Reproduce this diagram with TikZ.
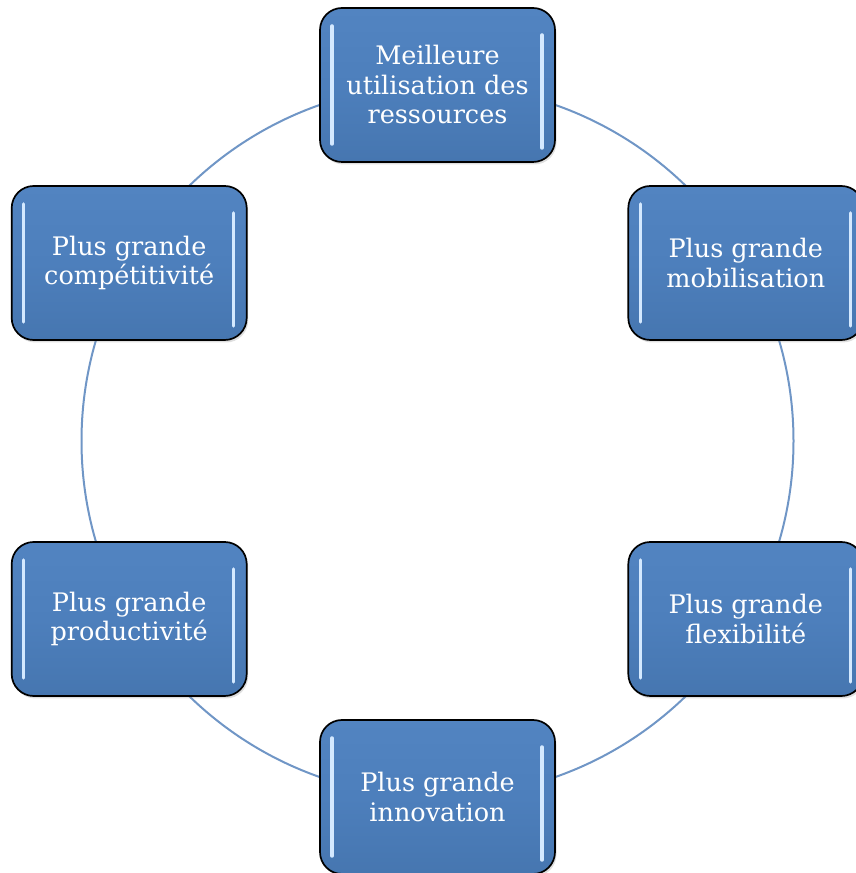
\documentclass[tikz,border=0pt]{standalone}
\usepackage{fontspec}
\setmainfont{DejaVu Serif}
\usetikzlibrary{shadows,calc}

\definecolor{ringblue}{RGB}{112,150,198}
\definecolor{boxtop}{RGB}{82,132,193}
\definecolor{boxmid}{RGB}{77,127,188}
\definecolor{boxbot}{RGB}{70,118,176}
\definecolor{glint}{RGB}{212,233,255}

\tikzset{
  benefit/.style={
    draw=black, line width=1.7pt, rounded corners=22pt,
    minimum width=235pt, minimum height=154pt,
    top color=boxtop, bottom color=boxbot, middle color=boxmid,
    text=white, align=center, inner sep=0pt,
    font=\fontsize{25.5}{29.5}\selectfont,
    drop shadow={opacity=0.25, shadow xshift=1.5pt, shadow yshift=-2.5pt},
    path picture={
      \draw[glint, line width=3.5pt, line cap=round]
        ([xshift=12pt,yshift=-18pt]path picture bounding box.north west) --
        ([xshift=12pt,yshift=18pt]path picture bounding box.south west);
      \draw[glint, line width=3.5pt, line cap=round]
        ([xshift=-13pt,yshift=-27pt]path picture bounding box.north east) --
        ([xshift=-13pt,yshift=14pt]path picture bounding box.south east);
    }
  },
  ring/.style={draw=ringblue, line width=2pt}
}

\begin{document}
\begin{tikzpicture}[x=1pt,y=1pt]
  \useasboundingbox (0,0) rectangle (856,873);

  % ring linking the six benefits
  \coordinate (hub) at (437.5,432);
  \draw[ring] (hub) circle[radius=356];

  % the six benefits, placed every 60 degrees around the ring
  \node[benefit] (ressources)   at ($(hub)+(90:356)$)  {Meilleure\\utilisation des\\ressources};
  \node[benefit] (mobilisation) at ($(hub)+(30:356)$)  {Plus grande\\mobilisation};
  \node[benefit] (flexibilite)  at ($(hub)+(-30:356)$) {Plus grande\\flexibilité};
  \node[benefit] (innovation)   at ($(hub)+(-90:356)$) {Plus grande\\innovation};
  \node[benefit] (productivite) at ($(hub)+(210:356)$) {Plus grande\\productivité};
  \node[benefit] (competitivite) at ($(hub)+(150:356)$) {Plus grande\\compétitivité};
\end{tikzpicture}
\end{document}
